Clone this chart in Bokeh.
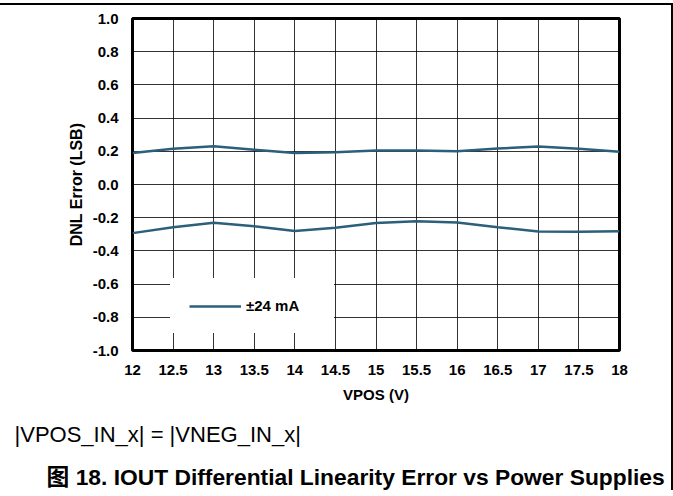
from bokeh.plotting import figure
from bokeh.models import Range1d, FixedTicker, Legend, LegendItem, Title
from bokeh.layouts import column
from bokeh.embed import file_html
from bokeh.resources import INLINE

# ---- data ----
vpos = [12.0, 12.5, 13.0, 13.5, 14.0, 14.5, 15.0, 15.5, 16.0, 16.5, 17.0, 17.5, 18.0]
dnl_pos = [0.19, 0.215, 0.23, 0.21, 0.19, 0.195, 0.205, 0.205, 0.20, 0.217, 0.229, 0.215, 0.197]
dnl_neg = [-0.293, -0.257, -0.231, -0.252, -0.28, -0.26, -0.232, -0.221, -0.229, -0.257, -0.283, -0.285, -0.281]
series_label = "±24 mA"

x_ticks = [12.0, 12.5, 13.0, 13.5, 14.0, 14.5, 15.0, 15.5, 16.0, 16.5, 17.0, 17.5, 18.0]
x_tick_labels = ["12", "12.5", "13", "13.5", "14", "14.5", "15", "15.5", "16", "16.5", "17", "17.5", "18"]
y_ticks = [-1.0, -0.8, -0.6, -0.4, -0.2, 0.0, 0.2, 0.4, 0.6, 0.8, 1.0]
y_tick_labels = ["-1.0", "-0.8", "-0.6", "-0.4", "-0.2", "0.0", "0.2", "0.4", "0.6", "0.8", "1.0"]

x_title = "VPOS (V)"
y_title = "DNL Error (LSB)"
note_text = "|VPOS_IN_x| = |VNEG_IN_x|"
caption_text = "图 18. IOUT Differential Linearity Error vs Power Supplies"

FONT = "Liberation Sans, Arial, Noto Sans CJK SC"
LINE_COLOR = "#2b5f7a"

p = figure(frame_width=487, frame_height=332, x_range=Range1d(12, 18), y_range=Range1d(-1, 1),
           output_backend="svg", toolbar_location=None,
           min_border_left=132, min_border_right=52, min_border_top=13, min_border_bottom=0)

p.outline_line_color = "black"
p.outline_line_width = 3
p.outline_line_alpha = 1.0

r1 = p.line(vpos, dnl_pos, line_color=LINE_COLOR, line_width=2.5)
r2 = p.line(vpos, dnl_neg, line_color=LINE_COLOR, line_width=2.5)

# axes
for ax in (p.xaxis[0], p.yaxis[0]):
    ax.axis_line_color = None
    ax.major_tick_line_color = None
    ax.minor_tick_line_color = None
    ax.major_tick_out = 0
    ax.major_tick_in = 0
    ax.major_label_text_font = FONT
    ax.major_label_text_font_style = "bold"
    ax.major_label_text_font_size = "15px"
    ax.major_label_text_color = "black"
    ax.axis_label_text_font = FONT
    ax.axis_label_text_font_style = "bold"
    ax.axis_label_text_font_size = "15px"
    ax.axis_label_text_color = "black"
p.yaxis.axis_label_text_font_size = "16px"

p.xaxis.ticker = FixedTicker(ticks=x_ticks)
p.yaxis.ticker = FixedTicker(ticks=y_ticks)
p.xaxis.major_label_overrides = {t: l for t, l in zip(x_ticks, x_tick_labels)}
p.yaxis.major_label_overrides = {t: l for t, l in zip(y_ticks, y_tick_labels)}
p.xaxis.major_label_standoff = 14
p.yaxis.major_label_standoff = 14
p.xaxis.axis_label = x_title
p.yaxis.axis_label = y_title
p.xaxis.axis_label_standoff = 8
p.yaxis.axis_label_standoff = 5

p.xgrid.ticker = FixedTicker(ticks=x_ticks)
p.ygrid.ticker = FixedTicker(ticks=y_ticks)
for g in (p.xgrid[0], p.ygrid[0]):
    g.grid_line_color = "black"
    g.grid_line_alpha = 0.8
    g.grid_line_width = 1

# legend (white box, white border, covering the grid)
legend = Legend(items=[LegendItem(label=series_label, renderers=[r1])],
                location=(38, 17), padding=18, glyph_width=52, glyph_height=14,
                label_standoff=5, label_width=69,
                background_fill_color="white", background_fill_alpha=1.0,
                border_line_color="white", border_line_width=1,
                label_text_font=FONT, label_text_font_style="bold",
                label_text_font_size="15px", label_text_color="black")
p.add_layout(legend, "center")

# texts below
note = Title(text=note_text, align="left", offset=-118, text_font=FONT,
             text_font_style="normal", text_font_size="22px", text_color="black",
             standoff=28)
p.add_layout(note, "below")
cap = Title(text=caption_text, align="left", offset=-86, text_font=FONT,
            text_font_style="bold", text_font_size="22.8px", text_color="black",
            standoff=2)
p.add_layout(cap, "below")

layout = column(p, styles={"margin-top": "3px", "border-top": "2px solid black",
                           "border-right": "2px solid black"})

open("out.html", "w").write(file_html(layout, INLINE))
